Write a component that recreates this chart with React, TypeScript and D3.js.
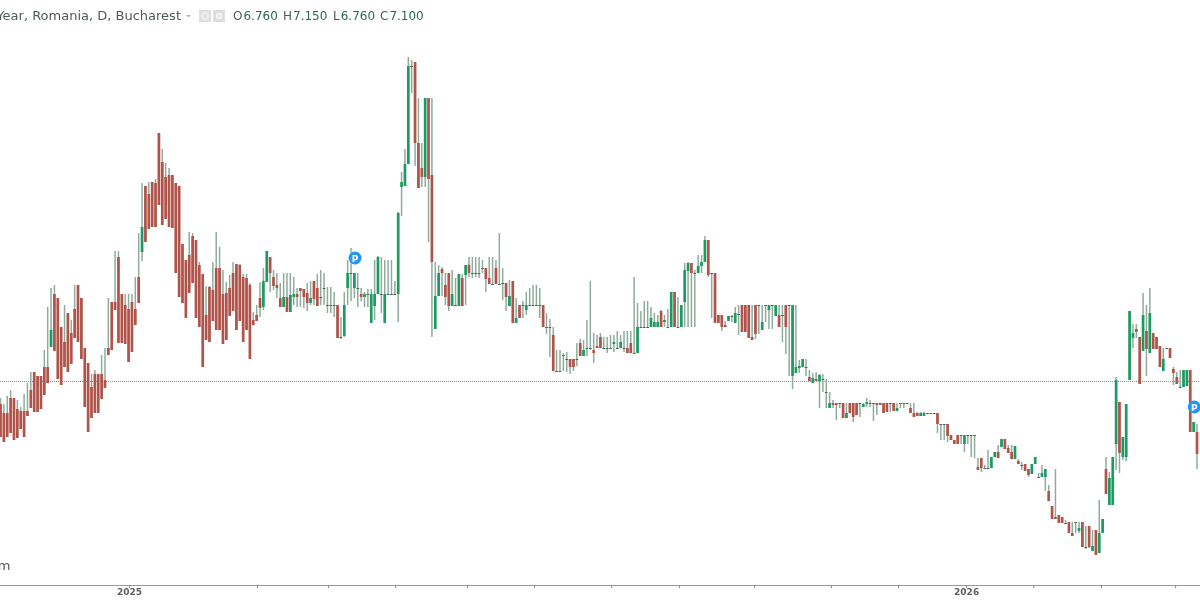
import React, { useEffect, useRef } from "react";
import * as d3 from "d3";

const WIDTH = 1200;
const HEIGHT = 600;

// The price axis is cropped out of the picture, so values are on the chart's own scale (hundredths).
const highs = [
  683,677,685,691,683,681,674,687,698,709, 709,705,705,731,774,793,796,783,754,776,
  768,761,796,796,783,733,718,707,711,707, 726,733,783,779,830,830,787,787,787,787,
  804,848,898,895,899,899,902,948,932,918, 913,906,898,895,837,821,849,848,841,819,
  807,795,795,819,849,834,811,799,806,819, 817,817,807,807,798,769,776,799,813,830,
  824,811,808,798,808,808,808,804,793,793, 792,798,800,800,807,811,808,794,794,789,
  776,764,789,821,833,808,808,793,789,792, 792,821,825,824,821,821,821,800,869,909,
  932,1024,1021,1019,983,938,983,983,983,819, 816,814,808,808,811,803,807,807,816,824,
  824,824,824,821,813,824,824,821,848,813, 798,801,800,783,776,780,789,793,796,796,
  793,776,768,762,754,731,731,728,729,722, 722,738,742,741,761,800,748,746,748,744,
  744,746,746,750,746,750,750,750,804,778, 770,780,780,774,768,766,771,766,772,789,
  789,784,776,818,819,818,811,826,826,845, 841,808,808,766,766,760,765,766,774,776,
  776,776,776,776,776,776,776,776,776,776, 776,776,776,776,776,776,776,721,722,722,
  711,708,709,707,707,702,689,681,678,678, 678,678,678,678,678,678,678,683,681,678,
  678,678,678,678,678,678,678,678,678,678, 678,678,669,669,669,668,668,668,668,657,
  657,657,646,641,646,646,646,646,646,646, 623,623,616,631,624,629,636,642,642,636,
  636,635,622,619,617,612,617,624,608,616, 612,596,575,612,566,564,561,559,559,559,
  559,559,555,555,551,551,581,562,624,609, 624,704,679,644,677,770,757,757,744,788,
  776,793,748,744,735,733,733,733,714,709, 711,711,711,711,659,657,
];

const opens = [
  677,668,668,683,683,672,670,670,670,691, 709,705,705,714,714,734,787,783,754,739,
  768,748,772,796,783,733,718,694,707,707, 707,701,733,779,779,824,787,776,772,779,
  772,804,829,895,887,899,898,948,919,904, 906,906,898,895,837,821,826,845,841,816,
  807,766,794,791,813,813,787,788,793,808, 817,816,804,803,796,761,766,783,774,799,
  824,804,796,783,774,784,769,784,787,793, 792,788,778,800,793,784,793,776,776,776,
  776,744,745,793,808,793,793,787,784,787, 758,775,787,787,758,787,787,787,787,894,
  895,917,1015,1019,938,913,904,983,906,752, 785,812,796,808,775,776,775,803,806,816,
  808,808,808,813,813,803,797,813,797,798, 798,775,800,758,776,776,771,776,776,776,
  776,776,754,754,746,710,710,726,722,722, 722,722,738,725,733,733,731,735,744,733,
  733,733,737,733,733,733,733,738,728,728, 754,754,754,754,754,754,770,759,754,754,
  789,754,754,779,810,818,808,808,815,819, 841,808,808,766,766,756,760,765,758,767,
  776,776,776,744,776,776,751,776,771,776, 765,766,766,776,776,705,708,713,714,714,
  704,698,702,700,702,689,673,678,678,678, 678,663,678,678,678,678,674,677,678,678,
  678,678,678,678,678,678,670,678,678,678, 673,668,668,665,665,668,668,668,668,657,
  657,657,646,641,646,646,637,646,646,646, 614,623,613,613,613,624,629,634,642,633,
  629,622,620,616,617,612,607,617,604,604, 604,590,575,564,566,564,558,559,548,559,
  550,559,534,555,530,551,528,548,612,576, 576,637,679,624,624,701,743,752,744,730,
  750,728,748,744,735,710,733,733,712,704, 694,694,695,711,649,649,
];

const closes = [
  644,639,644,648,641,643,652,644,665,673, 669,669,672,686,698,751,730,702,696,714,
  709,717,743,739,722,674,649,663,668,668, 682,693,726,731,771,738,738,737,719,729,
  756,778,854,839,852,854,854,876,856,862, 854,853,808,784,778,763,788,798,763,754,
  714,741,739,760,751,751,737,741,765,770, 751,760,739,751,722,756,760,773,800,830,
  808,795,793,774,784,769,786,787,784,790, 784,778,783,782,775,784,793,776,776,776,
  743,744,776,808,808,808,793,784,787,787, 787,787,824,787,787,787,787,787,868,899,
  917,1015,1015,938,893,904,983,902,819,785, 808,808,784,775,787,776,807,775,816,808,
  808,808,808,813,802,797,797,797,797,798, 784,785,758,763,763,776,776,776,776,776,
  776,754,754,754,710,710,710,726,722,714, 714,722,725,731,733,733,728,733,733,733,
  733,733,739,733,739,733,728,728,728,754, 754,754,754,763,759,759,754,761,754,789,
  754,754,776,811,818,808,808,815,819,841, 806,808,758,758,754,754,765,765,768,767,
  749,749,743,741,747,776,759,776,776,776, 776,754,766,754,776,776,714,715,722,714,
  700,703,700,706,702,689,678,676,676,678, 663,668,668,664,666,678,677,679,678,678,
  676,676,668,669,678,670,673,678,678,678, 668,664,665,668,668,668,668,668,657,657,
  657,645,641,637,637,646,646,646,646,646, 611,613,613,613,624,629,623,642,632,628,
  622,635,617,616,610,606,617,624,604,608, 612,580,562,562,558,558,558,548,545,559,
  553,534,534,534,535,526,548,562,587,603, 624,701,628,644,677,770,748,749,697,766,
  732,768,732,732,714,722,733,723,708,697, 694,711,711,649,659,627,
];

const lows = [
  644,639,644,648,641,643,652,644,665,673, 669,669,672,686,698,734,730,702,696,714,
  709,717,743,739,722,674,649,663,668,668, 682,693,726,731,771,738,738,737,719,729,
  756,778,820,839,852,854,854,876,856,862, 854,853,808,784,778,763,788,798,763,754,
  714,741,739,760,751,751,737,741,765,770, 751,760,739,751,722,756,760,764,771,799,
  789,791,783,774,774,769,769,776,774,774, 773,770,776,776,775,776,776,768,768,764,
  743,742,744,776,780,783,774,780,774,774, 758,761,787,768,758,787,787,787,759,865,
  895,917,988,915,893,894,894,839,744,752, 785,785,776,770,775,776,775,775,776,804,
  803,804,803,808,789,797,797,797,797,781, 770,775,758,758,763,763,766,776,776,776,
  763,754,747,724,710,710,710,710,709,707, 710,715,725,725,725,731,718,733,733,733,
  728,733,729,733,733,729,728,728,728,728, 754,754,754,754,754,754,754,754,754,754,
  754,754,754,754,754,754,754,808,808,819, 804,763,758,758,750,754,760,759,758,746,
  749,749,743,741,742,747,751,759,752,752, 765,754,739,727,705,692,708,708,714,705,
  700,698,700,673,689,673,673,673,661,673, 663,663,668,659,666,664,674,674,674,660,
  666,676,668,669,669,670,670,673,673,678, 668,664,665,665,665,668,668,668,648,641,
  641,639,641,637,637,637,629,637,624,623, 611,609,613,613,613,624,623,634,632,628,
  622,622,617,611,610,604,607,617,604,604, 590,580,562,562,558,558,558,548,545,548,
  548,534,532,533,530,526,528,548,587,576, 576,611,608,621,620,701,733,743,697,730,
  705,728,732,732,714,710,733,723,696,697, 694,694,695,649,649,612,
];

const timeTicks = [38.1,76.1,97.2,117.1,138.4,158.3,181.2,201.3,223.6,246.4,266.3,286.5,306.4,326.5,348.5];
const timeTickLabels = ["2025","","","","","","","","","","","2026","","",""];
const priceLine = 700;
const markers = [{ i: 105.2, level: 823 }, { i: 354.2, level: 674 }];
const legend = [
  { key: "O", value: "6.760" },
  { key: "H", value: "7.150" },
  { key: "L", value: "6.760" },
  { key: "C", value: "7.100" },
];
const legendX = [233, 283, 333, 380];

const RED = "#b0524a";
const GREEN = "#1c9a62";
const WICK = "#8fab9c";
const DOJI = "#3f6b57";
const FONT = "'DejaVu Sans', Verdana, sans-serif";

export default function App() {
  const axisRef = useRef<SVGGElement>(null);
  const x = d3.scaleLinear().domain([0, 355]).range([0.5, 1197]);
  const y = d3.scaleLinear().domain([1081, 481]).range([0, 600]);

  useEffect(() => {
    if (!axisRef.current) return;
    const g = d3.select(axisRef.current);
    g.call(
      d3.axisBottom(x)
        .tickValues(timeTicks)
        .tickSize(3)
        .tickSizeOuter(0)
        .tickFormat((_d, i) => timeTickLabels[i])
    );
    g.select(".domain").attr("d", `M0,0.5H${WIDTH}`).attr("stroke", "#9a9a9a");
    g.selectAll(".tick line").attr("stroke", "#8a8a8a");
    g.selectAll(".tick text")
      .attr("y", 4)
      .attr("fill", "#5f5f5f")
      .attr("font-size", 9)
      .attr("font-weight", 700)
      .attr("font-family", FONT);
  }, []);

  return (
    <svg
      width={WIDTH}
      height={HEIGHT}
      viewBox={`0 0 ${WIDTH} ${HEIGHT}`}
      style={{ position: "fixed", left: 0, top: 0, background: "#fff" }}
    >
      <defs>
        <filter id="soft" x="-2%" y="-2%" width="104%" height="104%">
          <feGaussianBlur stdDeviation="0.3" />
        </filter>
      </defs>

      <line
        x1={0}
        x2={WIDTH}
        y1={Math.round(y(priceLine)) + 0.5}
        y2={Math.round(y(priceLine)) + 0.5}
        stroke="#6f8ff2"
        strokeDasharray="1 1"
      />

      <g filter="url(#soft)">
        {highs.map((h, i) => (
          <line
            key={`w${i}`}
            x1={x(i)}
            x2={x(i)}
            y1={y(h)}
            y2={y(lows[i])}
            stroke={WICK}
            strokeWidth={1.5}
          />
        ))}

        {opens.map((o, i) => {
          const c = closes[i];
          const top = y(Math.max(o, c));
          const bottom = y(Math.min(o, c));
          const up = c > o;
          const flat = o === c;
          return (
            <rect
              key={`b${i}`}
              x={x(i) - 1.35}
              y={top}
              width={2.7}
              height={Math.max(bottom - top, 1)}
              fill={flat ? DOJI : up ? GREEN : RED}
            />
          );
        })}

        {markers.map((m) => (
          <g key={m.i} transform={`translate(${x(m.i)},${y(m.level)})`}>
            <circle r={6.5} fill="#2196f3" />
            <text
              textAnchor="middle"
              y={3.5}
              fontSize={9}
              fontWeight={700}
              fill="#fff"
              fontFamily={FONT}
            >
              P
            </text>
          </g>
        ))}

        <g ref={axisRef} transform="translate(0,585)" />

        <text x={10.5} y={570} textAnchor="end" fontSize={13} fill="#555" fontFamily={FONT}>
          Investing.com
        </text>

        <text x={181} y={20} textAnchor="end" fontSize={13} fill="#4f5b55" fontFamily={FONT}>
          Romania 10-Year, Romania, D, Bucharest
        </text>
        <path d="M186,15h5l-2.5,2.5z" fill="#b5b5b5" />
        <rect x={199} y={10} width={12} height={12} fill="#dedede" />
        <circle cx={205} cy={16} r={3} fill="none" stroke="#f4f4f4" strokeWidth={1.5} />
        <rect x={213} y={10} width={12} height={12} fill="#dedede" />
        <circle cx={219} cy={16} r={3.2} fill="#f6f6f6" />
        <circle cx={219} cy={16} r={1.2} fill="#dedede" />

        {legend.map((l, i) => (
          <text key={l.key} x={legendX[i]} y={20} fontSize={12} fontFamily={FONT}>
            <tspan fill="#4f5b55">{l.key}</tspan>
            <tspan fill="#2c6a4f" dx={1}>{l.value}</tspan>
          </text>
        ))}
      </g>
    </svg>
  );
}
